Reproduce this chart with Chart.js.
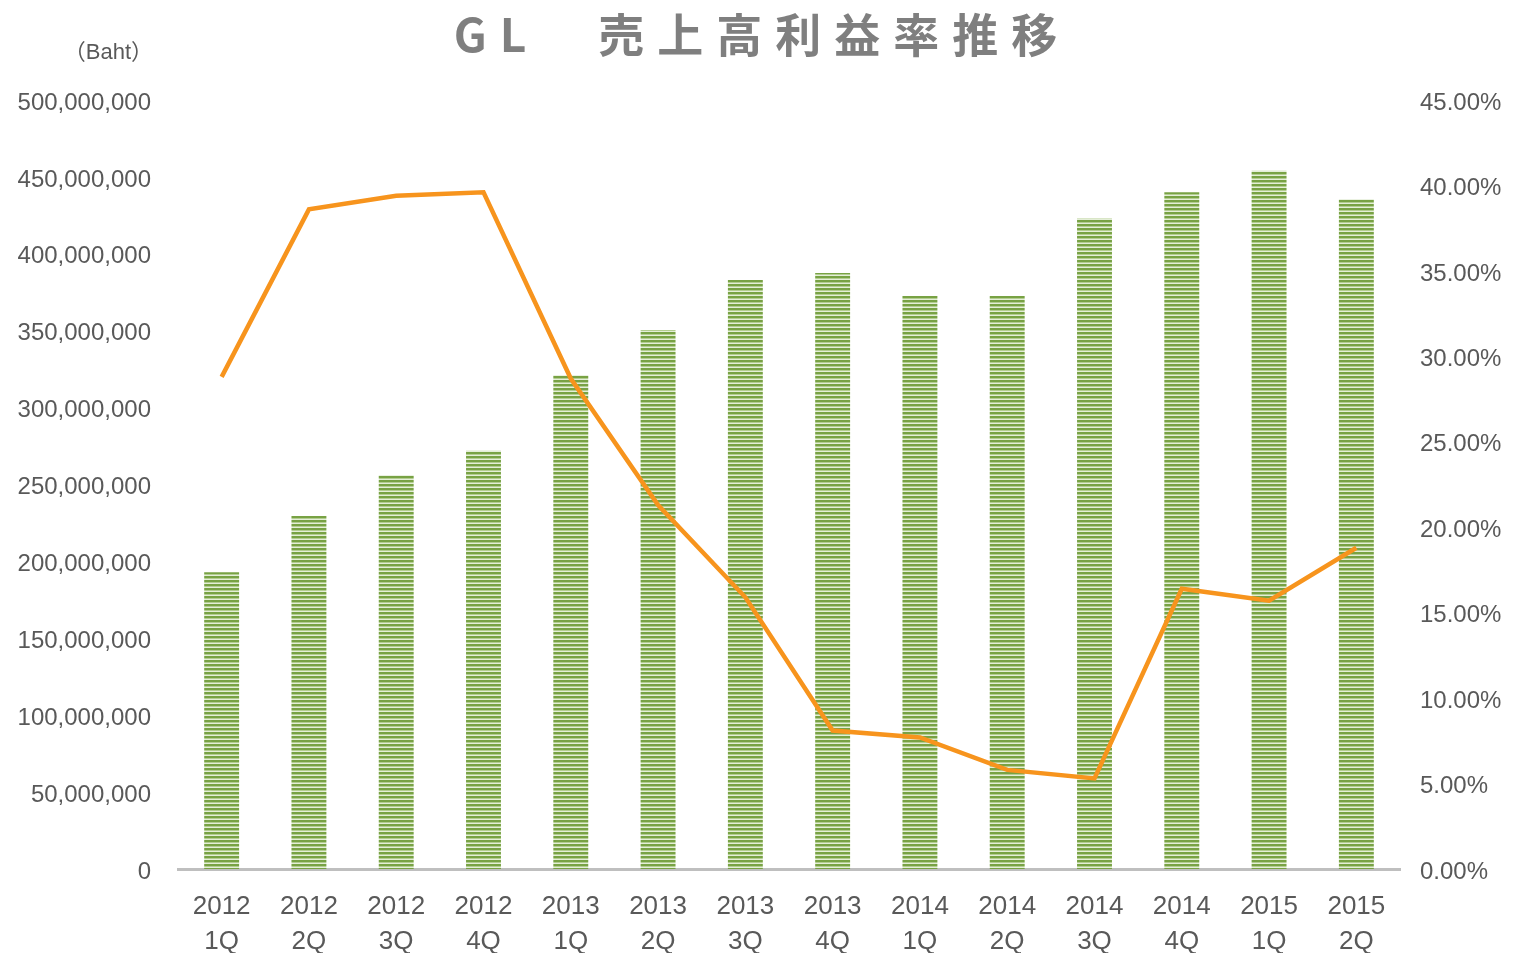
<!DOCTYPE html>
<html lang="ja">
<head>
    <meta charset="UTF-8">
    <title>GL 売上高利益率推移</title>
    <script src="https://cdn.jsdelivr.net/npm/chart.js"></script>
    <style>
        body { margin: 0; background: #fff; }
        #chart { display: block; }
    </style>
</head>
<body>
    <canvas id="chart" width="1513" height="953"></canvas>
    <script>
// データ
const quarters = [
    ["2012", "1Q"], ["2012", "2Q"], ["2012", "3Q"], ["2012", "4Q"],
    ["2013", "1Q"], ["2013", "2Q"], ["2013", "3Q"], ["2013", "4Q"],
    ["2014", "1Q"], ["2014", "2Q"], ["2014", "3Q"], ["2014", "4Q"],
    ["2015", "1Q"], ["2015", "2Q"]
];
const sales = [
    193000000, 229500000, 256000000, 272000000, 321000000, 350500000, 383000000,
    387500000, 372500000, 372500000, 423000000, 440000000, 454000000, 435500000
];
const marginPct = [
    28.8, 38.6, 39.4, 39.6, 28.7, 21.3, 15.9,
    8.1, 7.7, 5.8, 5.3, 16.4, 15.7, 18.8
];
const titleText = "GL　売上高利益率推移";
const unitText = "（Baht）";

// 棒の縞模様
function stripePattern(ctx) {
    const pc = document.createElement("canvas");
    pc.width = 4; pc.height = 4;
    const p = pc.getContext("2d");
    p.fillStyle = "#78a244"; p.fillRect(0, 0, 4, 2);
    p.fillStyle = "#b3cd90"; p.fillRect(0, 2, 4, 1);
    p.fillStyle = "#e4eed8"; p.fillRect(0, 3, 4, 1);
    return ctx.createPattern(pc, "repeat");
}

const labelFont = { family: "'Liberation Sans', Arial, sans-serif", size: 24 };

const titlePlugin = {
    id: "titleText",
    afterDraw(chart) {
        const c = chart.ctx;
        c.save();
        c.fillStyle = "#7f7f7f";
        c.font = "bold 46px 'Noto Sans CJK JP', 'Liberation Sans', sans-serif";
        c.letterSpacing = "13px";
        c.textAlign = "center";
        c.textBaseline = "middle";
        c.fillText(titleText, 762, 35);
        c.letterSpacing = "0px";
        c.fillStyle = "#595959";
        c.font = "22px 'Liberation Sans', 'Noto Sans CJK JP', sans-serif";
        c.textAlign = "right";
        c.fillText(unitText, 153, 53);
        c.restore();
    }
};

const canvas = document.getElementById("chart");
const ctx = canvas.getContext("2d");

new Chart(ctx, {
    data: {
        labels: quarters,
        datasets: [
            {
                type: "line",
                label: "売上高利益率",
                data: marginPct,
                yAxisID: "y1",
                borderColor: "#f7941d",
                borderWidth: 4.5,
                pointRadius: 0,
                tension: 0,
                order: 0
            },
            {
                type: "bar",
                label: "売上高",
                data: sales,
                yAxisID: "y",
                backgroundColor: stripePattern(ctx),
                barPercentage: 0.8,
                categoryPercentage: 0.5,
                order: 1
            }
        ]
    },
    options: {
        responsive: false,
        animation: false,
        layout: { padding: { top: 100, left: 0, right: 0, bottom: 0 } },
        plugins: {
            legend: { display: false },
            tooltip: { enabled: false }
        },
        scales: {
            x: {
                grid: { display: false },
                border: { display: true, color: "#bfbfbf", width: 3 },
                ticks: {
                    color: "#595959",
                    font: { family: labelFont.family, size: 26, lineHeight: "35px" },
                    padding: 12,
                    maxRotation: 0,
                    autoSkip: false
                },
                afterFit: s => { s.height = 84; }
            },
            y: {
                position: "left",
                min: 0,
                max: 500000000,
                grid: { display: false, drawTicks: false },
                border: { display: false },
                ticks: {
                    stepSize: 50000000,
                    color: "#595959",
                    font: labelFont,
                    padding: 27,
                    labelOffset: 3,
                    callback: v => v.toLocaleString("en-US")
                },
                afterFit: s => { s.width = 178; }
            },
            y1: {
                position: "right",
                min: 0,
                max: 45,
                grid: { display: false, drawTicks: false },
                border: { display: false },
                ticks: {
                    stepSize: 5,
                    color: "#595959",
                    font: labelFont,
                    padding: 20,
                    labelOffset: 3,
                    callback: v => v.toFixed(2) + "%"
                },
                afterFit: s => { s.width = 113; }
            }
        }
    },
    plugins: [titlePlugin]
});
    </script>
</body>
</html>
